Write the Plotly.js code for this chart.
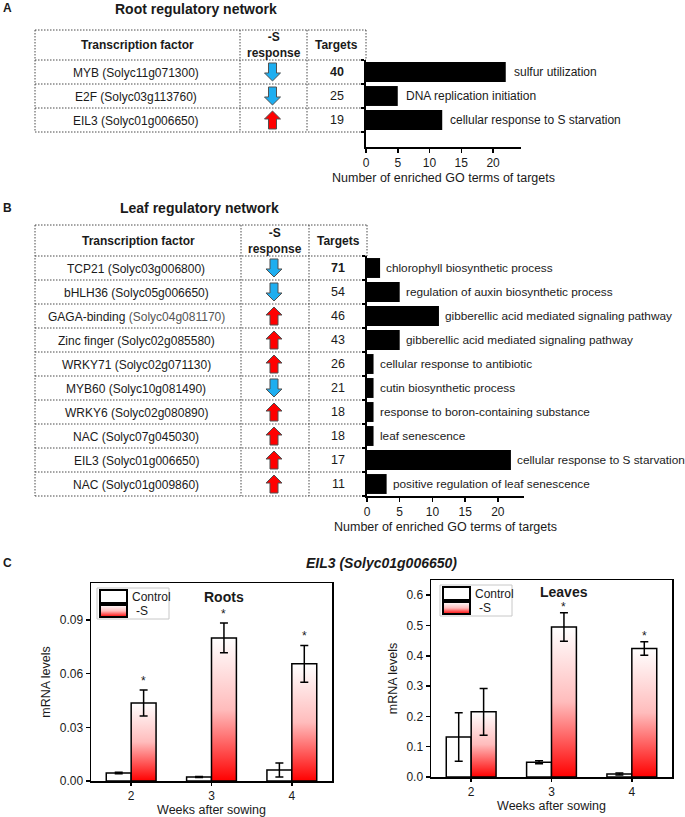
<!DOCTYPE html>
<html>
<head>
<meta charset="utf-8">
<script src="https://cdn.plot.ly/plotly-3.0.1.min.js"></script>
<style>html,body{margin:0;padding:0;background:#fff;}#chart{width:685px;height:817px;}</style>
</head>
<body>
<div id="chart"></div>
<script>
// ---------------- DATA ----------------
const rootTF = ["MYB (Solyc11g071300)", "E2F (Solyc03g113760)", "EIL3 (Solyc01g006650)"];
const rootResponse = ["down", "down", "up"];
const rootTargets = [40, 25, 19];
const rootGO = ["sulfur utilization", "DNA replication initiation", "cellular response to S starvation"];
const rootGOCount = [22, 5, 12];

const leafTF = ["TCP21 (Solyc03g006800)", "bHLH36 (Solyc05g006650)", "GAGA-binding (Solyc04g081170)",
  "Zinc finger (Solyc02g085580)", "WRKY71 (Solyc02g071130)", "MYB60 (Solyc10g081490)",
  "WRKY6 (Solyc02g080890)", "NAC (Solyc07g045030)", "EIL3 (Solyc01g006650)", "NAC (Solyc01g009860)"];
const leafResponse = ["down", "down", "up", "up", "up", "down", "up", "up", "up", "up"];
const leafTargets = [71, 54, 46, 43, 26, 21, 18, 18, 17, 11];
const leafGO = ["chlorophyll biosynthetic process", "regulation of auxin biosynthetic process",
  "gibberellic acid mediated signaling pathway", "gibberellic acid mediated signaling pathway",
  "cellular response to antibiotic", "cutin biosynthetic process", "response to boron-containing substance",
  "leaf senescence", "cellular response to S starvation", "positive regulation of leaf senescence"];
const leafGOCount = [2, 5, 11, 5, 1, 1, 1, 1, 22, 3];

const weeks = [2, 3, 4];
const weekLabels = ["2", "3", "4"];
const rootsControl = [0.0045, 0.0022, 0.0061];
const rootsControlErr = [0.0004, 0.0003, 0.0039];
const rootsMinusS = [0.0436, 0.0800, 0.0655];
const rootsMinusSErr = [0.0073, 0.0083, 0.0103];
const rootsSig = [true, true, true];
const leavesControl = [0.132, 0.049, 0.010];
const leavesControlErr = [0.080, 0.005, 0.003];
const leavesMinusS = [0.215, 0.495, 0.424];
const leavesMinusSErr = [0.077, 0.047, 0.022];
const leavesSig = [false, true, true];

// style-only helpers
const leafIdGrey = [false, false, true, false, false, false, false, false, false, false];

// ---------------- LAYOUT HELPERS ----------------
const W = 685, H = 817;
const X = p => p / W;
const Y = p => 1 - p / H;
const GRAD = 'rgb(254,1,1)';   // sentinel colour replaced by a gradient after drawing
const TXT = '#1a1a1a';
const shapes = [], annotations = [];

function ann(px, py, text, o) {
  annotations.push(Object.assign({xref: 'paper', yref: 'paper', x: X(px), y: Y(py), text: text,
    showarrow: false, xanchor: 'center', yanchor: 'middle', font: {size: 12, color: TXT}}, o || {}));
}
const dotted = {color: '#4a4a4a', width: 1, dash: '1.5px,1.5px'};
function hline(x0, x1, y) {
  shapes.push({type: 'line', xref: 'paper', yref: 'paper', x0: X(x0), x1: X(x1), y0: Y(y), y1: Y(y), line: dotted, layer: 'below'});
}
function vline(x, y0, y1) {
  shapes.push({type: 'line', xref: 'paper', yref: 'paper', x0: X(x), x1: X(x), y0: Y(y0), y1: Y(y1), line: dotted, layer: 'below'});
}
function arrow(cx, cy, dir) {
  const s = dir === 'up' ? -1 : 1;
  const pts = [[0, 9 * s], [8, 1 * s], [4, 1 * s], [4, -9 * s], [-4, -9 * s], [-4, 1 * s], [-8, 1 * s]];
  const d = 'M' + pts.map(p => X(cx + p[0]).toFixed(5) + ',' + Y(cy + p[1]).toFixed(5)).join('L') + 'Z';
  shapes.push({type: 'path', xref: 'paper', yref: 'paper', path: d,
    fillcolor: dir === 'up' ? '#ff0000' : '#1eaef0', line: {color: '#505050', width: 1}});
}
function drawTable(t) {
  const n = t.tf.length, bottom = t.hb + n * t.rowH;
  hline(t.left, t.right, t.top);
  for (let i = 0; i <= n; i++) hline(t.left, t.right, t.hb + i * t.rowH);
  vline(t.left, t.top, bottom); vline(t.c1, t.top, bottom); vline(t.c2, t.top, bottom); vline(t.right, t.top, t.hb);
  const tfc = (t.left + t.c1) / 2, rc = (t.c1 + t.c2) / 2, tc = (t.c2 + t.right) / 2, hm = (t.top + t.hb) / 2;
  ann(tfc, hm, '<b>Transcription factor</b>', {font: {size: 12, color: TXT}});
  ann(rc, hm, '<b>-S</b><br><b>response</b>', {font: {size: 12, color: TXT}});
  ann(tc, hm, '<b>Targets</b>', {font: {size: 12, color: TXT}});
  for (let i = 0; i < n; i++) {
    const cy = t.hb + t.rowH * (i + 0.5);
    let name = t.tf[i];
    if (t.grey && t.grey[i]) {
      const k = name.indexOf(' (');
      name = name.slice(0, k) + ' <span style="color:#555">' + name.slice(k + 1) + '</span>';
    }
    ann(tfc - 2, cy + 1, name, {font: {size: 12, color: TXT}});
    arrow(rc - 1, cy, t.resp[i]);
    ann(tc, cy, i === 0 ? '<b>' + t.targets[i] + '</b>' : String(t.targets[i]), {font: {size: 12.5, color: TXT}});
  }
}

// ---------------- PANEL A / B TABLES ----------------
ann(8, 8, '<b>A</b>', {font: {size: 12, color: TXT}});
ann(196, 9, '<b>Root regulatory network</b>', {font: {size: 14, color: TXT}});
drawTable({left: 35, c1: 240, c2: 307, right: 366, top: 30, hb: 60, rowH: 24,
  tf: rootTF, resp: rootResponse, targets: rootTargets});

ann(8, 208, '<b>B</b>', {font: {size: 12, color: TXT}});
ann(200, 208, '<b>Leaf regulatory network</b>', {font: {size: 14, color: TXT}});
drawTable({left: 35, c1: 241, c2: 309, right: 367, top: 225, hb: 256, rowH: 24,
  tf: leafTF, resp: leafResponse, targets: leafTargets, grey: leafIdGrey});

// GO labels next to bars
rootGO.forEach((g, i) => annotations.push({xref: 'x', yref: 'y', x: rootGOCount[i], y: i, text: g,
  showarrow: false, xanchor: 'left', yanchor: 'middle', xshift: 6, font: {size: 12, color: TXT}}));
leafGO.forEach((g, i) => annotations.push({xref: 'x2', yref: 'y2', x: leafGOCount[i], y: i, text: g,
  showarrow: false, xanchor: 'left', yanchor: 'middle', xshift: 4, font: {size: 11.8, color: TXT}}));

// ---------------- PANEL C ----------------
ann(8, 563, '<b>C</b>', {font: {size: 12, color: TXT}});
ann(381, 563, '<b><i>EIL3 (Solyc01g006650)</i></b>', {font: {size: 14, color: TXT}});
ann(224, 597, '<b>Roots</b>', {font: {size: 14, color: TXT}});
ann(564, 592, '<b>Leaves</b>', {font: {size: 14, color: TXT}});

const offS = 0.155;
function stars(vals, errs, sig, xa, ya, shift) {
  vals.forEach((v, i) => {
    if (!sig[i]) return;
    annotations.push({xref: xa, yref: ya, x: weeks[i] + offS, y: v + errs[i], text: '*', showarrow: false,
      xanchor: 'center', yanchor: 'bottom', yshift: shift, font: {size: 12, color: TXT}});
  });
}
stars(rootsMinusS, rootsMinusSErr, rootsSig, 'x3', 'y3', 0);
stars(leavesMinusS, leavesMinusSErr, leavesSig, 'x4', 'y4', -3);

function legendBox(x0, y0) {
  shapes.push({type: 'rect', xref: 'paper', yref: 'paper', x0: X(x0), x1: X(x0 + 72), y0: Y(y0 + 31), y1: Y(y0),
    fillcolor: '#fff', line: {color: '#c8c8c8', width: 1}});
  shapes.push({type: 'rect', xref: 'paper', yref: 'paper', x0: X(x0 + 3), x1: X(x0 + 30), y0: Y(y0 + 15), y1: Y(y0 + 2),
    fillcolor: '#fff', line: {color: '#000', width: 2}});
  shapes.push({type: 'rect', xref: 'paper', yref: 'paper', x0: X(x0 + 3), x1: X(x0 + 30), y0: Y(y0 + 29), y1: Y(y0 + 17),
    fillcolor: GRAD, line: {color: '#000', width: 2}});
  ann(x0 + 33, y0 + 8.5, 'Control', {xanchor: 'left'});
  ann(x0 + 37, y0 + 23, '-S', {xanchor: 'left'});
}
legendBox(97, 588);
legendBox(440, 585);

// ---------------- TRACES ----------------
const errStyle = (arr) => ({type: 'data', array: arr, visible: true, color: '#000', thickness: 1.5, width: 4});
const data = [
  {type: 'bar', orientation: 'h', x: rootGOCount, y: rootGO.map((_, i) => i), width: 0.83,
    marker: {color: '#000'}, xaxis: 'x', yaxis: 'y', showlegend: false, hoverinfo: 'skip'},
  {type: 'bar', orientation: 'h', x: leafGOCount, y: leafGO.map((_, i) => i), width: 0.83,
    marker: {color: '#000'}, xaxis: 'x2', yaxis: 'y2', showlegend: false, hoverinfo: 'skip'},
  {type: 'bar', name: 'Control', x: weeks, y: rootsControl, error_y: errStyle(rootsControlErr),
    marker: {color: '#fff', line: {color: '#000', width: 1.5}}, xaxis: 'x3', yaxis: 'y3', showlegend: false},
  {type: 'bar', name: '-S', x: weeks, y: rootsMinusS, error_y: errStyle(rootsMinusSErr),
    marker: {color: GRAD, line: {color: '#000', width: 1.5}}, xaxis: 'x3', yaxis: 'y3', showlegend: false},
  {type: 'bar', name: 'Control', x: weeks, y: leavesControl, error_y: errStyle(leavesControlErr),
    marker: {color: '#fff', line: {color: '#000', width: 1.5}}, xaxis: 'x4', yaxis: 'y4', showlegend: false},
  {type: 'bar', name: '-S', x: weeks, y: leavesMinusS, error_y: errStyle(leavesMinusSErr),
    marker: {color: GRAD, line: {color: '#000', width: 1.5}}, xaxis: 'x4', yaxis: 'y4', showlegend: false}
];

const tickFont = {size: 12, color: TXT};
function goX(dom, range, anchor) {
  return {domain: dom, range: range, anchor: anchor, tickvals: [0, 5, 10, 15, 20], ticks: 'outside', ticklen: 4,
    tickwidth: 1.5, tickcolor: '#000', showline: true, linewidth: 2, linecolor: '#000', showgrid: false,
    zeroline: false, tickfont: tickFont, fixedrange: true,
    title: {text: 'Number of enriched GO terms of targets', font: {size: 12.5, color: TXT}, standoff: 4}};
}
function goY(dom, range, anchor, n) {
  const tv = []; for (let i = 0; i <= n; i++) tv.push(i - 0.5);
  return {domain: dom, range: range, anchor: anchor, tickvals: tv, showticklabels: false, ticks: 'outside',
    ticklen: 3, tickwidth: 1.5, tickcolor: '#000', showline: true, linewidth: 2, linecolor: '#000',
    showgrid: false, zeroline: false, fixedrange: true};
}
function cX(dom, anchor) {
  return {domain: dom, anchor: anchor, range: [1.5, 4.5], tickvals: weeks, ticktext: weekLabels, ticks: 'outside',
    ticklen: 3, tickwidth: 1.5, tickcolor: '#000', showline: true, mirror: true, linewidth: 1.5, linecolor: '#000',
    showgrid: false, zeroline: false, tickfont: tickFont, fixedrange: true,
    title: {text: 'Weeks after sowing', font: {size: 12.5, color: TXT}, standoff: 3}};
}
function cY(dom, anchor, range, tv, fmt) {
  return {domain: dom, anchor: anchor, range: range, tickvals: tv, tickformat: fmt, ticks: 'outside',
    ticklen: 4, tickwidth: 1.5, tickcolor: '#000', showline: true, mirror: true, linewidth: 1.5, linecolor: '#000',
    showgrid: false, zeroline: false, tickfont: tickFont, fixedrange: true,
    title: {text: 'mRNA levels', font: {size: 12.5, color: TXT}, standoff: 6}};
}

const layout = {
  width: W, height: H, margin: {l: 0, r: 0, t: 0, b: 0}, paper_bgcolor: '#fff', plot_bgcolor: 'rgba(0,0,0,0)',
  font: {family: 'Liberation Sans, Arial, sans-serif', size: 12, color: TXT},
  barmode: 'group', bargap: 0.38, bargroupgap: 0, showlegend: false,
  xaxis: goX([X(366), X(521)], [0, 24.4], 'y'),
  yaxis: goY([Y(147), Y(60)], [3.125, -0.5], 'x', 3),
  xaxis2: goX([X(367), X(524)], [0, 24], 'y2'),
  yaxis2: goY([Y(496), Y(256)], [9.5, -0.5], 'x2', 10),
  xaxis3: cX([X(91), X(332)], 'y3'),
  yaxis3: cY([Y(781), Y(583)], 'x3', [0, 0.1107], [0, 0.03, 0.06, 0.09], '.2f'),
  xaxis4: cX([X(431), X(672)], 'y4'),
  yaxis4: cY([Y(777), Y(580)], 'x4', [0, 0.65], [0, 0.1, 0.2, 0.3, 0.4, 0.5, 0.6], '.1f'),
  shapes: shapes, annotations: annotations
};

const gd = document.getElementById('chart');
Plotly.newPlot(gd, data, layout, {staticPlot: true, displayModeBar: false, responsive: false}).then(() => {
  const ns = 'http://www.w3.org/2000/svg';
  const svg = gd.querySelector('svg.main-svg');
  let defs = svg.querySelector('defs');
  if (!defs) { defs = document.createElementNS(ns, 'defs'); svg.insertBefore(defs, svg.firstChild); }
  const lg = document.createElementNS(ns, 'linearGradient');
  lg.setAttribute('id', 'redgrad'); lg.setAttribute('x1', '0'); lg.setAttribute('y1', '0');
  lg.setAttribute('x2', '0'); lg.setAttribute('y2', '1');
  [[0, '#ffffff'], [0.5, '#ffbcbc'], [1, '#ff0000']].forEach(s => {
    const st = document.createElementNS(ns, 'stop');
    st.setAttribute('offset', s[0]); st.setAttribute('stop-color', s[1]); lg.appendChild(st);
  });
  defs.appendChild(lg);
  gd.querySelectorAll('path').forEach(p => {
    const f = (p.style.fill || '').replace(/\s/g, '');
    if (f === GRAD) p.style.fill = 'url(#redgrad)';
  });
});
</script>
</body>
</html>
